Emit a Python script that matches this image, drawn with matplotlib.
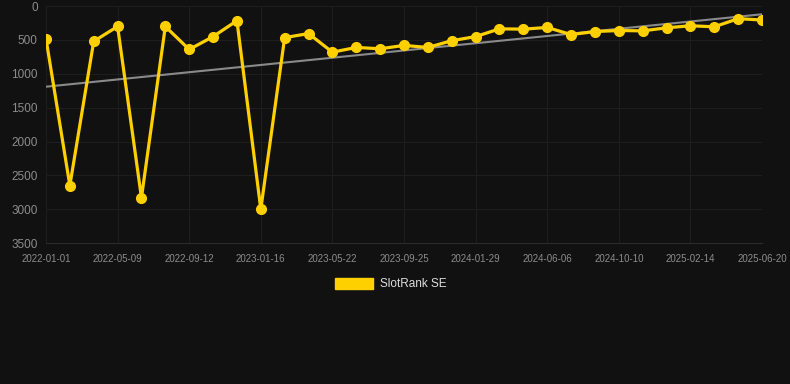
import numpy as np
import pandas as pd
import matplotlib
matplotlib.use("Agg")
import matplotlib.pyplot as plt
import matplotlib.dates as mdates

# Données
start_date = "2022-01-01"
end_date = "2025-06-20"
rank_values = [480, 2650, 520, 300, 2830, 300, 640, 450, 215, 3000,
               465, 405, 680, 610, 630, 580, 610, 510, 450, 335,
               340, 315, 420, 375, 360, 365, 320, 290, 305, 185, 205]
trend_values = [1190, 120]
tick_labels = ["2022-01-01", "2022-05-09", "2022-09-12", "2023-01-16", "2023-05-22",
               "2023-09-25", "2024-01-29", "2024-06-06", "2024-10-10", "2025-02-14",
               "2025-06-20"]
y_ticks = [0, 500, 1000, 1500, 2000, 2500, 3000, 3500]
series_name = "SlotRank SE"

plt.rcParams['font.family'] = ['Liberation Sans', 'DejaVu Sans']

bg = '#111111'
gold = '#FFD000'

t0 = mdates.date2num(pd.Timestamp(start_date))
t1 = mdates.date2num(pd.Timestamp(end_date))
x_points = np.linspace(t0, t1, len(rank_values))
x_ticks = np.linspace(t0, t1, len(tick_labels))

fig = plt.figure(figsize=(7.9, 3.84), dpi=100, facecolor=bg)
ax = fig.add_axes([0.0582, 0.367, 0.9064, 0.617], facecolor=bg)

# Ligne de tendance
ax.plot([t0, t1], trend_values, color='#8a8a8a', linewidth=1.5, zorder=2)

# Série principale
ax.plot(x_points, rank_values, color=gold, linewidth=2.3, marker='o', markersize=7,
        solid_joinstyle='miter', zorder=3, label=series_name)

ax.set_xlim(t0, t1)
ax.set_ylim(3500, 0)
ax.set_xticks(x_ticks)
ax.set_xticklabels(tick_labels)
ax.set_yticks(y_ticks)
ax.tick_params(axis='x', colors='#8c8c8c', labelsize=7, length=0, pad=8)
ax.tick_params(axis='y', colors='#8c8c8c', labelsize=8.5, length=0, pad=6)
ax.grid(True, color='#1e1e1e', linewidth=0.8)
for side in ax.spines.values():
    side.set_visible(False)
ax.spines['bottom'].set_visible(True)
ax.spines['bottom'].set_color('#2c2c2c')
ax.spines['bottom'].set_linewidth(0.8)

leg = fig.legend(handles=[plt.Rectangle((0, 0), 1, 1, color=gold)], labels=[series_name],
                 loc='center', bbox_to_anchor=(0.495, 0.26), frameon=False,
                 handlelength=3.2, handleheight=1.0, handletextpad=0.6, fontsize=8.5)
for txt in leg.get_texts():
    txt.set_color('#dddddd')

plt.savefig("out.png", dpi=100, facecolor=bg)
